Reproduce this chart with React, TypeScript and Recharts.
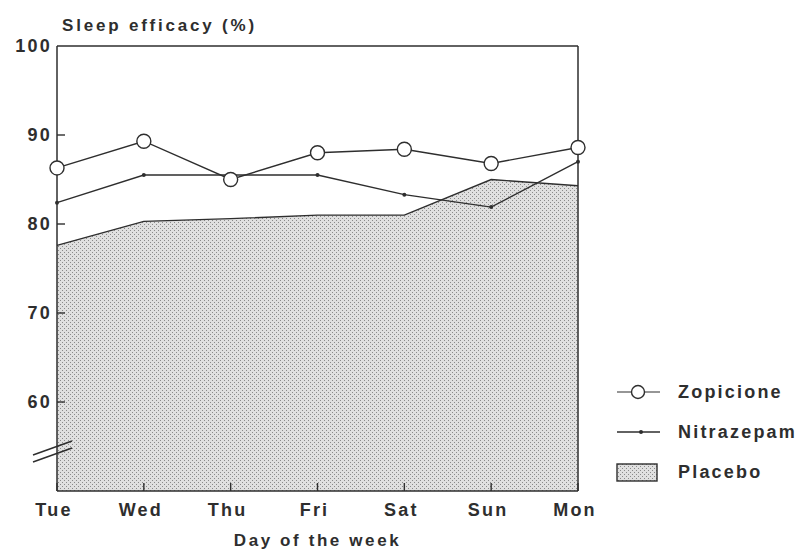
import React from 'react';
import { ComposedChart, Area, Line, XAxis, YAxis, ReferenceLine, Legend } from 'recharts';

const days = ['Tue', 'Wed', 'Thu', 'Fri', 'Sat', 'Sun', 'Mon'];
const zopiclone = [86.3, 89.3, 85.0, 88.0, 88.4, 86.8, 88.6];
const nitrazepam = [82.4, 85.5, 85.5, 85.5, 83.3, 81.9, 87.0];
const placebo = [77.6, 80.3, 80.6, 81.0, 81.0, 85.0, 84.3];
const yTicks = [60, 70, 80, 90, 100];

const data = days.map((day, i) => ({
  day,
  zopiclone: zopiclone[i],
  nitrazepam: nitrazepam[i],
  placebo: placebo[i],
}));

const INK = '#2e2e2e';
const FONT = '"Liberation Sans", Arial, sans-serif';
const textStyle = { fontFamily: FONT, fontWeight: 700, fontSize: 18, letterSpacing: 2.2, fill: INK };

const YTick = (props: any) => {
  const { x, y, payload } = props;
  return (
    <g>
      {payload.value < 100 && <line x1={x} x2={x + 8} y1={y} y2={y} stroke={INK} strokeWidth={1.4} />}
      <text x={x - 5} y={y} dy="0.36em" textAnchor="end" style={textStyle}>
        {payload.value}
      </text>
    </g>
  );
};

const XTick = (props: any) => {
  const { x, y, payload } = props;
  return (
    <g>
      <line x1={x} x2={x} y1={y} y2={y - 8} stroke={INK} strokeWidth={1.4} />
      <text x={x - 3} y={y + 25} textAnchor="middle" style={textStyle}>
        {payload.value}
      </text>
    </g>
  );
};

const YTitle = (props: any) => {
  const { viewBox } = props;
  return (
    <text x={viewBox.x + viewBox.width + 5} y={viewBox.y - 15} style={{ ...textStyle, fontSize: 17, letterSpacing: 2.8 }}>
      Sleep efficacy (%)
    </text>
  );
};

const LegendBox = () => {
  const row = { display: 'flex', alignItems: 'center', height: 40 };
  const label = { fontFamily: FONT, fontWeight: 700, fontSize: 18, letterSpacing: 2.2, color: INK, marginLeft: 18 };
  return (
    <div>
      <div style={row}>
        <svg width={48} height={20}>
          <line x1={5} x2={48} y1={10} y2={10} stroke={INK} strokeWidth={1.2} />
          <circle cx={26} cy={10} r={6.5} fill="#fff" stroke={INK} strokeWidth={1.4} />
        </svg>
        <span style={label}>Zopicione</span>
      </div>
      <div style={row}>
        <svg width={48} height={20}>
          <line x1={5} x2={48} y1={10} y2={10} stroke={INK} strokeWidth={1.6} />
          <circle cx={29} cy={10} r={2} fill={INK} />
        </svg>
        <span style={label}>Nitrazepam</span>
      </div>
      <div style={row}>
        <svg width={48} height={20}>
          <rect x={5} y={2} width={40} height={17} fill="url(#stipple)" stroke={INK} strokeWidth={1.4} />
        </svg>
        <span style={label}>Placebo</span>
      </div>
    </div>
  );
};

export default function App() {
  return (
    <div style={{ position: 'absolute', left: 0, top: 0, width: 798, height: 552, background: '#fff' }}>
      <svg width={0} height={0} style={{ position: 'absolute' }}>
        <defs>
          <pattern id="stipple" width={4} height={4} patternUnits="userSpaceOnUse">
            <rect width={4} height={4} fill="#e0e0e0" />
            <rect x={0} y={0} width={1} height={1} fill="#8a8a8a" />
            <rect x={2} y={2} width={1} height={1} fill="#8a8a8a" />
          </pattern>
        </defs>
      </svg>
      <ComposedChart width={798} height={552} data={data} margin={{ top: 46, right: 220, left: 0, bottom: 0 }}>
        <XAxis
          dataKey="day"
          scale="point"
          padding={{ left: 0, right: 0 }}
          height={61}
          tickSize={0}
          tickMargin={0}
          tick={<XTick />}
          axisLine={{ stroke: INK, strokeWidth: 1.5 }}
          tickLine={false}
          interval={0}
          label={{
            value: 'Day of the week',
            position: 'insideBottom',
            offset: 6,
            style: { ...textStyle, fontSize: 17, letterSpacing: 2.6 },
          }}
        />
        <YAxis
          domain={[50, 100]}
          ticks={yTicks}
          width={57}
          tickSize={0}
          tickMargin={0}
          tick={<YTick />}
          axisLine={{ stroke: INK, strokeWidth: 1.5 }}
          tickLine={false}
          label={<YTitle />}
        />
        <Area
          type="linear"
          dataKey="placebo"
          stroke={INK}
          strokeWidth={1.4}
          fill="url(#stipple)"
          fillOpacity={1}
          dot={false}
          activeDot={false}
          isAnimationActive={false}
        />
        <ReferenceLine y={100} stroke={INK} strokeWidth={1.5} />
        <ReferenceLine x="Mon" stroke={INK} strokeWidth={1.5} />
        <Line
          type="linear"
          dataKey="nitrazepam"
          stroke={INK}
          strokeWidth={1.4}
          dot={{ r: 2, fill: INK, stroke: INK, strokeWidth: 0 }}
          activeDot={false}
          isAnimationActive={false}
        />
        <Line
          type="linear"
          dataKey="zopiclone"
          stroke={INK}
          strokeWidth={1.4}
          dot={{ r: 7, fill: '#fff', stroke: INK, strokeWidth: 1.4 }}
          activeDot={false}
          isAnimationActive={false}
        />
        <Legend
          layout="vertical"
          align="center"
          verticalAlign="middle"
          content={() => <LegendBox />}
          wrapperStyle={{ left: 612, top: 372, width: 186 }}
        />
      </ComposedChart>
      <svg width={798} height={552} style={{ position: 'absolute', left: 0, top: 0, pointerEvents: 'none' }}>
        <line x1={33} y1={455} x2={72} y2={441} stroke={INK} strokeWidth={1.5} />
        <line x1={33} y1={462} x2={72} y2={448} stroke={INK} strokeWidth={1.5} />
      </svg>
    </div>
  );
}
